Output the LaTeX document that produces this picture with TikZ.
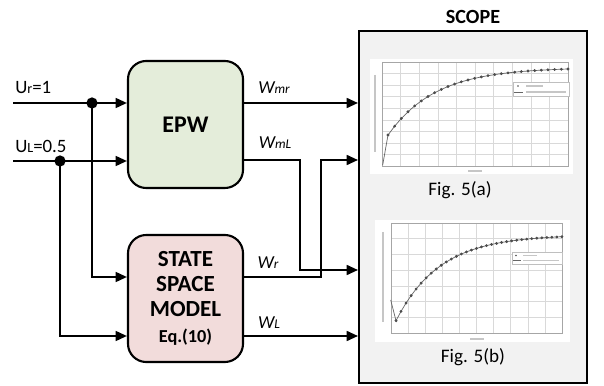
\documentclass[tikz,border=0pt]{standalone}
\usepackage{fontspec}
\setmainfont{Carlito}
\usetikzlibrary{arrows.meta}

\definecolor{epwgreen}{RGB}{228,237,218}
\definecolor{sspink}{RGB}{242,220,219}
\definecolor{scopegray}{RGB}{242,242,242}

\begin{document}
\begin{tikzpicture}[x=0.025cm, y=-0.025cm]
    \tikzstyle{block}=[rectangle, draw=black, line width=1.5pt, rounded corners=13pt, minimum width=2.875cm, minimum height=3.175cm, align=center]
    \tikzstyle{wire}=[line width=1.4pt]
    \tikzstyle{arr}=[wire, -{Triangle[length=8pt,width=7pt]}]
    \tikzstyle{dot}=[circle, fill=black, inner sep=0pt, minimum size=8pt]
    \tikzstyle{sig}=[font=\fontsize{13}{15}\selectfont\itshape, inner sep=0pt]
    \tikzstyle{inp}=[font=\fontsize{13.4}{15}\selectfont, inner sep=0pt, anchor=west]
    \tikzstyle{grid}=[gray!30, line width=0.3pt]
    \tikzstyle{curve}=[gray!80!black, line width=0.5pt, mark=*, mark size=0.75pt, mark options={fill=gray!60!black, draw=gray!60!black}]
    \tikzstyle{blur}=[gray!45, line width=1.3pt]

    \useasboundingbox (0,0) rectangle (604,386);

    % blocks
    \node[block, fill=epwgreen, font=\fontsize{17}{20}\selectfont\bfseries] (epw) at (185.5,124.5) {EPW};
    \node[block, fill=sspink, font=\fontsize{16.4}{17.8}\selectfont\bfseries] (ss) at (185.5,298.5)
        {STATE\\SPACE\\MODEL\\[1pt]{\fontsize{13}{14}\selectfont Eq.(10)}};
    \node[draw, line width=1.4pt, fill=scopegray, minimum width=5.7cm, minimum height=8.8cm, inner sep=0pt] (scope) at (473,207) {};
    \node[font=\fontsize{14.3}{16}\selectfont\bfseries] (scopetitle) at (473,17) {SCOPE};

    % inputs
    \coordinate (ur) at (13,103);
    \coordinate (ul) at (13,161);
    \coordinate (ssin1) at (127,277);
    \coordinate (ssin2) at (127,336);
    \node[dot] (dr) at (92,103) {};
    \node[dot] (dl) at (60,161) {};
    \node[inp] (urlab) at (15,88) {U{\fontsize{10}{10}\selectfont r}=1};
    \node[inp] (ullab) at (15,146) {U{\fontsize{10}{10}\selectfont L}=0.5};

    \draw[wire] (ur) -- (dr.center);
    \draw[arr] (dr.center) -- (dr -| epw.west);
    \draw[arr] (dr.center) |- (ssin1 -| ss.west);
    \draw[wire] (ul) -- (dl.center);
    \draw[arr] (dl.center) -- (dl -| epw.west);
    \draw[arr] (dl.center) |- (ssin2 -| ss.west);

    % outputs
    \coordinate (jl) at (300,270);
    \coordinate (jr) at (321,160);
    \draw[arr] (epw.east |- ur) -- (scope.west |- ur);
    \draw[arr] (epw.east |- jr) -| (jl) -- (jl -| scope.west);
    \draw[arr] (ss.east |- ssin1) -| (jr) -- (jr -| scope.west);
    \draw[arr] (ss.east |- ssin2) -- (scope.west |- ssin2);

    \node[sig] (wmr) at (274,88) {W{\fontsize{9.5}{10}\selectfont mr}};
    \node[sig] (wml) at (275,143) {W{\fontsize{9.5}{10}\selectfont mL}};
    \node[sig] (wr) at (268,263) {W{\fontsize{9.5}{10}\selectfont r}};
    \node[sig] (wl) at (269,323) {W{\fontsize{9.5}{10}\selectfont L}};

    % Fig. 5(a)
    \fill[white] (370,59) rectangle (573,174);
    \foreach \i in {0,...,10} \draw[grid] (382+18.6*\i,62) -- (382+18.6*\i,166);
    \foreach \j in {0,...,9} \draw[grid] (382,62+11.55*\j) -- (568,62+11.55*\j);
    \draw[gray!70, line width=0.4pt] (382,62) rectangle (568,166);
    \draw[curve] (382.7,165) -- plot[domain=0:1, samples=28] ({388+180*\x}, {135-67.5*(1-exp(-3.8*\x))});
    \draw[gray!50, fill=white, line width=0.3pt] (513,82) rectangle (569,96);
    \fill[gray!60!black] (518,86) circle (0.9);
    \draw[gray!80!black, line width=0.4pt] (514,92) -- (523,92);
    \draw[blur] (526,86) -- (543,86);
    \draw[blur] (526,92) -- (566,92);
    \draw[blur] (375,75) -- (375,152);
    \draw[blur] (468,171) -- (482,171);
    \node[font=\fontsize{13.6}{15}\selectfont] (figa) at (460,190) {Fig. 5(a)};

    % Fig. 5(b)
    \fill[white] (375,220) rectangle (570,342);
    \foreach \i in {0,...,10} \draw[grid] (391+17.1*\i,223) -- (391+17.1*\i,333);
    \foreach \j in {0,...,7} \draw[grid] (391,223+15.7*\j) -- (562,223+15.7*\j);
    \draw[gray!70, line width=0.4pt] (391,223) rectangle (562,333);
    \draw[curve] (390.7,300) -- plot[domain=0:1, samples=34] ({396+166*\x}, {320.7-85.9*(1-exp(-3.8*\x))});
    \draw[gray!50, fill=white, line width=0.3pt] (512,252) rectangle (562,264);
    \fill[gray!60!black] (516,255.5) circle (0.9);
    \draw[gray!80!black, line width=0.4pt] (513,260.5) -- (521,260.5);
    \draw[blur] (523,255.5) -- (537,255.5);
    \draw[blur] (523,260.5) -- (559,260.5);
    \draw[blur] (383,232) -- (383,322);
    \draw[blur] (470,339) -- (484,339);
    \node[font=\fontsize{13.6}{15}\selectfont] (figb) at (473,357) {Fig. 5(b)};

\end{tikzpicture}
\end{document}
